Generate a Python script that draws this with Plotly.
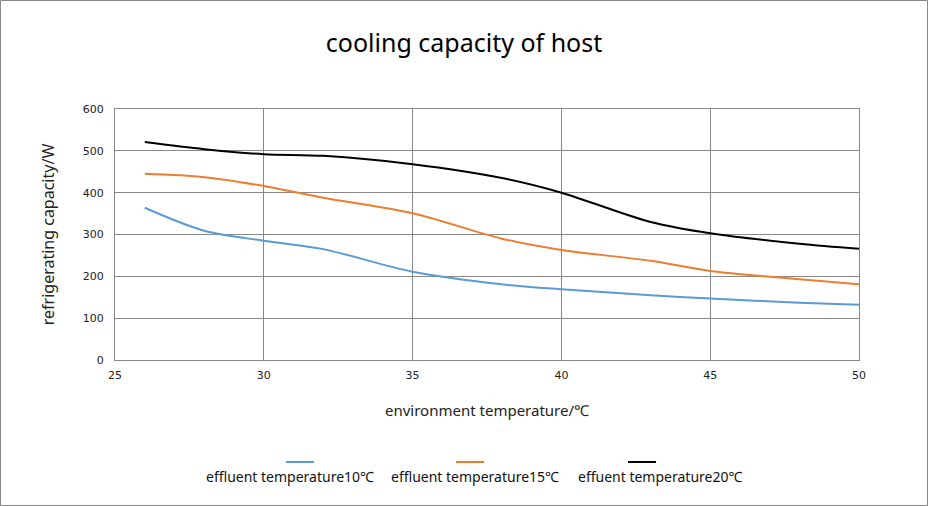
import plotly.graph_objects as go

x_temp = [26, 28, 30, 32, 35, 38, 40, 43, 45, 48, 50]
cap_10 = [364, 309, 285, 265, 211, 181, 169, 155, 147, 137, 132]
cap_15 = [445, 437, 416, 388, 351, 290, 263, 237, 213, 193, 181]
cap_20 = [521, 504, 492, 488, 468, 435, 400, 330, 303, 278, 266]
series_names = ["effluent temperature10℃", "effluent temperature15℃", "effuent temperature20℃"]
colors = ["#5B9BD5", "#ED7D31", "#000000"]

fig = go.Figure()
for name, ys, c in zip(series_names, [cap_10, cap_15, cap_20], colors):
    fig.add_trace(go.Scatter(x=x_temp, y=ys, name=name, mode="lines", showlegend=False,
                             line=dict(color=c, width=2, shape="spline", smoothing=0.9)))

W, H = 928, 506
ml, mr, mt, mb = 115, 69, 109, 146
pw, ph = W - ml - mr, H - mt - mb

def px_x(p):
    return (p - ml) / pw

def px_y(p):
    return (H - mb - p) / ph

# manual legend: line sample above each label
legend_text_cx = [290, 475, 660]
legend_line_cx = [300, 470, 642]
annotations = []
shapes = [dict(type="rect", xref="paper", yref="paper",
               x0=px_x(0.5), x1=px_x(W - 0.5), y0=px_y(H - 0.5), y1=px_y(0.5),
               line=dict(color="#888", width=1))]
for name, c, tcx, lcx in zip(series_names, colors, legend_text_cx, legend_line_cx):
    annotations.append(dict(text=name, xref="paper", yref="paper", x=px_x(tcx), y=px_y(476),
                            xanchor="center", yanchor="middle", showarrow=False,
                            font=dict(family="Noto Sans", size=14, color="#111")))
    shapes.append(dict(type="line", xref="paper", yref="paper",
                       x0=px_x(lcx - 14), x1=px_x(lcx + 14), y0=px_y(462), y1=px_y(462),
                       line=dict(color=c, width=2)))

fig.update_layout(
    width=W, height=H,
    margin=dict(l=ml, r=mr, t=mt, b=mb),
    paper_bgcolor="white", plot_bgcolor="white",
    title=dict(text="cooling capacity of host", x=0.5, xanchor="center", y=1 - 43 / H, yanchor="middle",
               font=dict(family="Noto Sans", size=25, color="#000")),
    font=dict(family="DejaVu Sans", color="#333"),
    xaxis=dict(range=[25, 50], dtick=5, tick0=25, showgrid=True, gridcolor="#888", gridwidth=1,
               showline=True, linecolor="#888", mirror=True, zeroline=False, ticks="",
               ticklabelstandoff=5,
               tickfont=dict(family="DejaVu Sans", size=11, color="#222"),
               title=dict(text="environment temperature/℃", standoff=24,
                          font=dict(family="Noto Sans", size=15, color="#222"))),
    yaxis=dict(range=[0, 600], dtick=100, showgrid=True, gridcolor="#888", gridwidth=1,
               showline=True, linecolor="#888", mirror=True, zeroline=False, ticks="",
               ticklabelstandoff=8,
               tickfont=dict(family="DejaVu Sans", size=11, color="#222"),
               title=dict(text="refrigerating capacity/W", standoff=24,
                          font=dict(family="Noto Sans", size=16, color="#222"))),
    showlegend=False,
    annotations=annotations,
    shapes=shapes,
)

fig.write_html("out.html", config={"displayModeBar": False},
               post_script="document.body.style.margin='0';")
